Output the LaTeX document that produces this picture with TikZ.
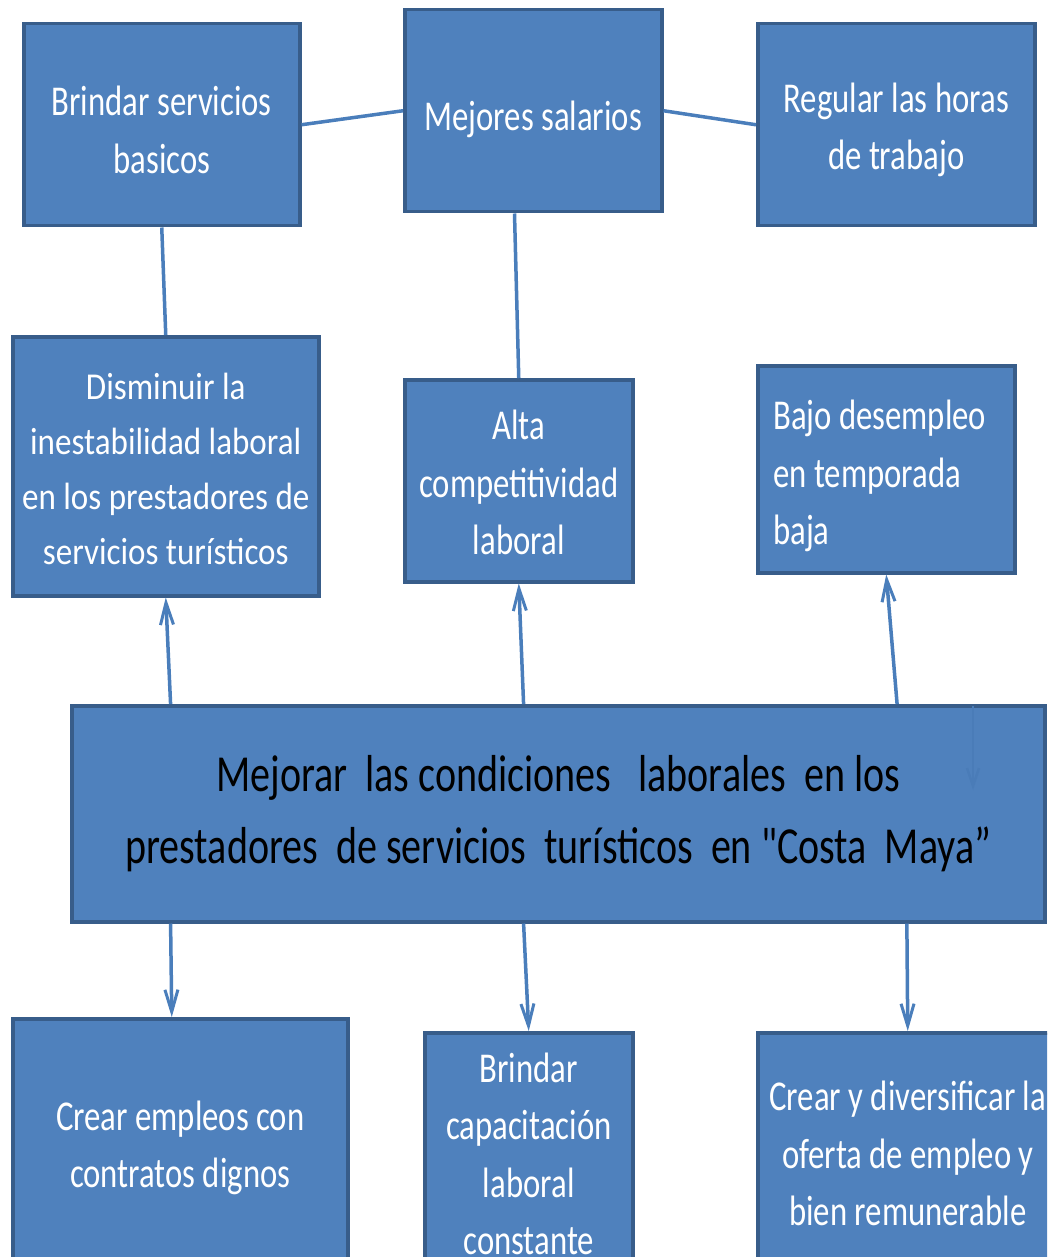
\documentclass[tikz,border=0pt]{standalone}
\usepackage{fontspec}
\usetikzlibrary{arrows.meta,calc}
\newfontfamily\boxfontA[FakeStretch=0.77]{Carlito}
\newfontfamily\boxfontB[FakeStretch=0.87]{Carlito}
\definecolor{boxfill}{HTML}{4F81BD}
\definecolor{boxline}{HTML}{385D8A}
\definecolor{conn}{HTML}{4A7EBB}
\definecolor{faint}{HTML}{4A7CB8}
\tikzset{
  box/.style={draw=boxline, fill=boxfill, line width=3.5pt, anchor=north west, inner sep=0pt},
  txt/.style={text=white, align=center, inner sep=0pt,
    font=\boxfontA\fontsize{42.5}{57.5}\selectfont},
  smalltxt/.style={font=\boxfontB\fontsize{38}{55}\selectfont},
  maintxt/.style={text=black, font=\boxfontA\fontsize{52}{72}\selectfont},
  link/.style={draw=conn, line width=3.5pt},
  arr/.style={draw=conn, line width=3.5pt, -{Straight Barb[length=22pt,width=13pt,line width=3pt]}},
  faintarr/.style={draw=faint, line width=2.5pt, -{Straight Barb[length=18pt,width=12pt,line width=2.5pt]}}
}
\begin{document}
\begin{tikzpicture}[x=1pt,y=-1pt]
\useasboundingbox (0,0) rectangle (1047,1257);
\clip (0,0) rectangle (1047,1257);
% boxes
\node[box, minimum width=276pt, minimum height=202pt] (b1) at (22,22) {};
\node[box, minimum width=257pt, minimum height=202pt] (b2) at (403,8) {};
\node[box, minimum width=277pt, minimum height=202pt] (b3) at (756,22) {};
\node[box, minimum width=306pt, minimum height=259pt] (b4) at (11,335) {};
\node[box, minimum width=228pt, minimum height=202pt] (b5) at (403,378) {};
\node[box, minimum width=257pt, minimum height=207pt] (b6) at (756,364) {};
\node[box, minimum width=973pt, minimum height=216pt] (b7) at (70,704) {};
\node[box, minimum width=335pt, minimum height=258pt] (b8) at (11,1017) {};
\node[box, minimum width=208pt, minimum height=242pt] (b9) at (423,1031) {};
\node[box, minimum width=300pt, minimum height=242pt] (b10) at (756,1031) {};
% texts
\node[txt] (t1) at ($(b1.center)+(0,5)$) {Brindar servicios\\basicos};
\node[txt] (t2) at ($(b2.center)+(0,9)$) {Mejores salarios};
\node[txt] (t3) at ($(b3.center)+(0,5)$) {Regular las horas\\de trabajo};
\node[txt, smalltxt] (t4) at ($(b4.center)+(0,3)$) {Disminuir la\\inestabilidad laboral\\en los prestadores de\\servicios turísticos};
\node[txt] (t5) at ($(b5.center)+(0,2)$) {Alta\\competitividad\\laboral};
\node[txt, align=left, anchor=west] (t6) at ($(b6.west)+(17,7)$) {Bajo desempleo\\en temporada\\baja};
\node[txt, maintxt] (t7) at (b7.center) {Mejorar\ \ las condiciones\ \ \ laborales\ \ en los\\prestadores\ \ de servicios\ \ turísticos\ \ en "Costa\ \ Maya”};
\node[txt] (t8) at (b8.center) {Crear empleos con\\contratos dignos};
\node[txt] (t9) at (b9.center) {Brindar\\capacitación\\laboral\\constante};
\node[txt] (t10) at (b10.center) {Crear y diversificar la\\oferta de empleo y\\bien remunerable};
% plain links
\draw[link] (b1.east) -- (b2.west);
\draw[link] (b2.east) -- (b3.west);
\draw[link] (b1.south) -- (b4.north);
\draw[link] ($(b2.south west)!0.428!(b2.south east)$) -- (b5.north);
% upward arrows
\draw[arr] ($(b7.north west)!0.103!(b7.north east)$) -- (b4.south);
\draw[arr] ($(b7.north west)!0.4645!(b7.north east)$) -- (b5.south);
\draw[arr] ($(b7.north west)!0.847!(b7.north east)$) -- (b6.south);
% downward arrows
\draw[arr] ($(b7.south west)!0.103!(b7.south east)$) -- ($(b8.north west)!0.475!(b8.north east)$);
\draw[arr] ($(b7.south west)!0.4645!(b7.south east)$) -- (b9.north);
\draw[arr] ($(b7.south west)!0.857!(b7.south east)$) -- (b10.north);
% faint arrow inside the main box
\coordinate (fa) at ($(b7.north west)+(903,2)$);
\coordinate (fb) at ($(b7.north west)+(903,86)$);
\draw[faintarr] (fa) -- (fb);
\end{tikzpicture}
\end{document}
